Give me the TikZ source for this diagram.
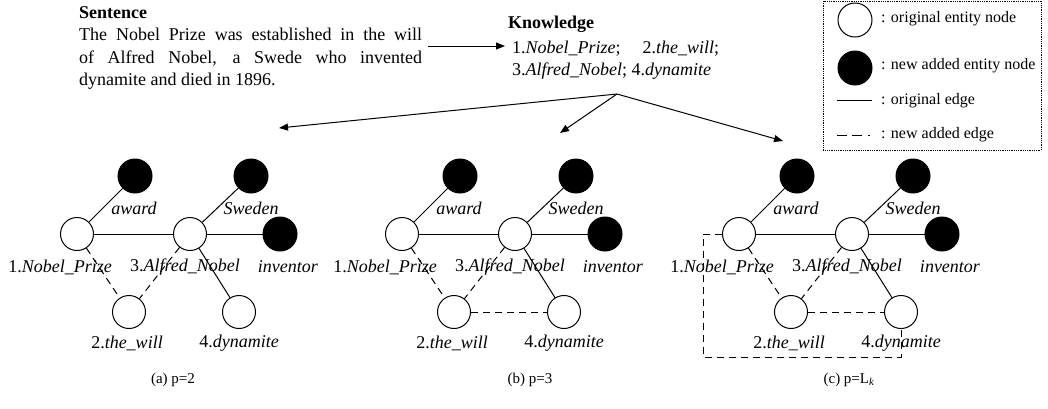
\documentclass[tikz,border=0pt]{standalone}
\usepackage{fontspec}
\setmainfont{Liberation Serif}
\usetikzlibrary{arrows.meta}
\begin{document}
\begin{tikzpicture}[x=1pt,y=-1pt,
  ent/.style={circle, draw, fill=white, minimum size=33pt, inner sep=0pt, line width=1pt},
  newent/.style={circle, draw, fill=black, minimum size=34pt, inner sep=0pt, line width=1pt},
  lbl/.style={font=\fontsize{18}{22}\selectfont, inner sep=0pt},
  txt/.style={font=\fontsize{18}{22}\selectfont, inner sep=0pt, anchor=base west},
  legt/.style={font=\fontsize{16}{20}\selectfont, inner sep=0pt, anchor=base west},
  capt/.style={font=\fontsize{15}{18}\selectfont, inner sep=0pt},
  orig/.style={line width=1pt},
  added/.style={line width=1pt, dash pattern=on 7pt off 5pt},
  arr/.style={line width=1pt, -{Triangle[length=9pt,width=7pt]}}
]
\useasboundingbox (0,0) rectangle (1048,408);

% Sentence block
\node[txt] (sent) at (79,18) {\textbf{Sentence}};
\node[txt] (s1) at (79,40) {\makebox[343pt][s]{The Nobel Prize was established in the will}};
\node[txt] (s2) at (79,63) {\makebox[343pt][s]{of Alfred Nobel, a Swede who invented}};
\node[txt] (s3) at (79,85) {dynamite and died in 1896.};

% Knowledge block
\node[txt] (know) at (508,28) {\textbf{Knowledge}};
\node[txt] (k1) at (512,53) {\makebox[207pt][s]{1.\textit{Nobel\_Prize};\hspace{12pt plus 20pt} 2.\textit{the\_will};}};
\node[txt] (k2) at (512,75) {3.\textit{Alfred\_Nobel}; 4.\textit{dynamite}};

\coordinate (sentR) at (428,46);
\coordinate (knowL) at (505,46);
\draw[arr] (sentR) -- (knowL);

\coordinate (apex) at (617,94);
\coordinate (ta) at (279,128);
\coordinate (tb) at (560,133);
\coordinate (tc) at (783,141);
\draw[arr] (apex) -- (ta);
\draw[arr] (apex) -- (tb);
\draw[arr] (apex) -- (tc);

% Legend
\draw[densely dotted, line width=0.8pt] (823,1) rectangle (1041,150);
\node[ent, minimum size=34pt] (lg-o) at (855,20) {};
\node[legt] (lg-ot) at (881,22) {: original entity node};
\node[newent] (lg-n) at (855,68) {};
\node[legt] (lg-nt) at (881,69) {: new added entity node};
\coordinate (lg-e1) at (837,100);
\coordinate (lg-e2) at (872,100);
\draw[orig] (lg-e1) -- (lg-e2);
\node[legt] (lg-et) at (881,104) {: original edge};
\coordinate (lg-d1) at (837,135);
\coordinate (lg-d2) at (872,135);
\draw[line width=1pt, dash pattern=on 10pt off 5pt on 10pt off 6pt on 2pt off 20pt] (lg-d1) -- (lg-d2);
\node[legt] (lg-dt) at (881,138) {: new added edge};

% Graphs
\foreach \g/\dx in {a/0,b/325,c/662}{
  \node[ent] (\g-1) at ({\dx+77},234) {};
  \node[ent] (\g-3) at ({\dx+190},234) {};
  \node[ent] (\g-2) at ({\dx+129},312) {};
  \node[ent] (\g-4) at ({\dx+239},312) {};
  \node[newent] (\g-aw) at ({\dx+135},176) {};
  \node[newent] (\g-sw) at ({\dx+251},176) {};
  \node[newent] (\g-inv) at ({\dx+280},234) {};
  \node[lbl] (\g-l1) at ({\dx+60},267) {1.\textit{Nobel\_Prize}};
  \node[lbl] (\g-l3) at ({\dx+185},267) {3.\textit{Alfred\_Nobel}};
  \node[lbl] (\g-linv) at ({\dx+288},267) {\textit{inventor}};
  \node[lbl] (\g-law) at ({\dx+134},208) {\textit{award}};
  \node[lbl] (\g-lsw) at ({\dx+251},208) {\textit{Sweden}};
  \node[lbl] (\g-l2) at ({\dx+127},343) {2.\textit{the\_will}};
  \node[lbl] (\g-l4) at ({\dx+239},343) {4.\textit{dynamite}};
  \draw[orig] (\g-1) -- (\g-aw);
  \draw[orig] (\g-1) -- (\g-3);
  \draw[orig] (\g-3) -- (\g-sw);
  \draw[orig] (\g-3) -- (\g-inv);
  \draw[orig] (\g-3) -- (\g-4);
  \draw[added] (\g-1) -- (\g-2);
  \draw[added] (\g-3) -- (\g-2);
}
\draw[added] (b-2) -- (b-4);
\draw[added] (c-2) -- (c-4);
\coordinate (c-box) at (703,357);
\draw[added] (c-1.west) -| (c-box) -| (c-4.south);

% Captions
\node[capt] (cap-a) at (173,380) {(a) p=2};
\node[capt] (cap-b) at (530,380) {(b) p=3};
\node[capt] (cap-c) at (849,380) {(c) p=L\textsubscript{\textit{k}}};
\end{tikzpicture}
\end{document}
